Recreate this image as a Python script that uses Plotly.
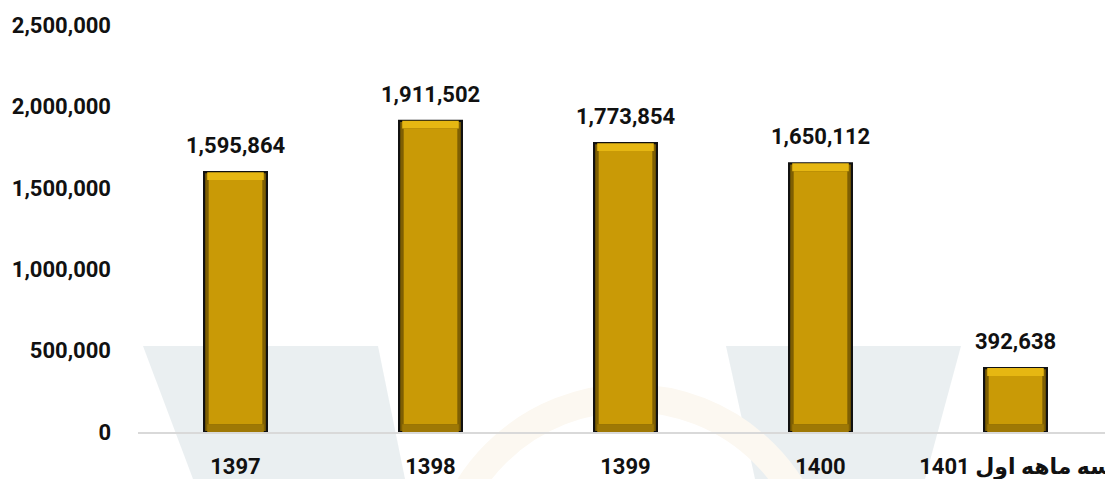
import plotly.graph_objects as go

categories = ["1397", "1398", "1399", "1400", "سه ماهه اول 1401"]
values = [1595864, 1911502, 1773854, 1650112, 392638]
y_ticks = [0, 500000, 1000000, 1500000, 2000000, 2500000]

FONT = "Roboto, 'Noto Sans', 'DejaVu Sans', sans-serif"
band = 48000  # bevel band thickness in data units
n = len(values)

fig = go.Figure()

# outer bar (dark side edges + black outline)
fig.add_trace(go.Bar(
    x=categories, y=values, width=0.322,
    marker=dict(color="#7E5F03", line=dict(color="#111111", width=2.2)),
    hoverinfo="skip", showlegend=False,
))
# top highlight bevel
fig.add_trace(go.Bar(
    x=categories, y=[band] * n, base=[v - band for v in values],
    width=0.29,
    marker=dict(color="#E6B712", line=dict(width=0)),
    hoverinfo="skip", showlegend=False,
))
# face
fig.add_trace(go.Bar(
    x=categories, y=[v - 2 * band for v in values], base=[band] * n,
    width=0.275,
    marker=dict(color="#C99A06", line=dict(width=0)),
    hoverinfo="skip", showlegend=False,
))
# bottom shadow bevel
fig.add_trace(go.Bar(
    x=categories, y=[band] * n, base=[0] * n,
    width=0.29,
    marker=dict(color="#9E7805", line=dict(width=0)),
    hoverinfo="skip", showlegend=False,
))

for i, v in enumerate(values):
    fig.add_annotation(
        x=i, y=v, text=f"{v:,}", showarrow=False,
        yanchor="bottom", yshift=12,
        font=dict(family=FONT, size=22, color="#111111", weight="bold"),
    )

# page-pixel helpers (page has an 8px body margin; plot area spans 138..1113 x 25..432)
def px(x):
    return (x - 138) / 975

def py(y):
    return (432 - y) / 407

wm = "#E8EDF0"
shapes = [
    dict(type="path", xref="paper", yref="paper", layer="below",
         path=f"M {px(143)} {py(346)} L {px(378)} {py(346)} L {px(405)} {py(479)} L {px(193)} {py(479)} Z",
         fillcolor=wm, line=dict(width=0), opacity=0.9),
    dict(type="path", xref="paper", yref="paper", layer="below",
         path=f"M {px(726)} {py(346)} L {px(961)} {py(346)} L {px(925)} {py(479)} L {px(755)} {py(479)} Z",
         fillcolor=wm, line=dict(width=0), opacity=0.9),
    dict(type="circle", xref="paper", yref="paper", layer="below",
         x0=px(440), x1=px(820), y0=py(398), y1=py(778),
         line=dict(color="#FCF8F1", width=28), fillcolor="rgba(0,0,0,0)"),
]

fig.update_layout(
    width=1105, height=471,
    margin=dict(l=130, r=0, t=17, b=47),
    paper_bgcolor="white", plot_bgcolor="rgba(0,0,0,0)",
    barmode="overlay",
    shapes=shapes,
    font=dict(family=FONT, size=22, color="#111111", weight="bold"),
    xaxis=dict(
        type="category", range=[-0.5, n - 0.5], automargin=False,
        showline=True, linecolor="#D9D9D9", linewidth=1.5,
        showgrid=False, ticks="", ticklabelstandoff=14,
        tickfont=dict(family=FONT, size=22, color="#111111", weight="bold"),
        fixedrange=True,
    ),
    yaxis=dict(
        range=[0, 2500000], tickvals=y_ticks, automargin=False,
        ticktext=[f"{t:,}" for t in y_ticks],
        showgrid=False, zeroline=False, showline=False,
        ticklabelstandoff=26,
        tickfont=dict(family=FONT, size=22, color="#111111", weight="bold"),
        fixedrange=True,
    ),
)

fig.write_html("out.html")
